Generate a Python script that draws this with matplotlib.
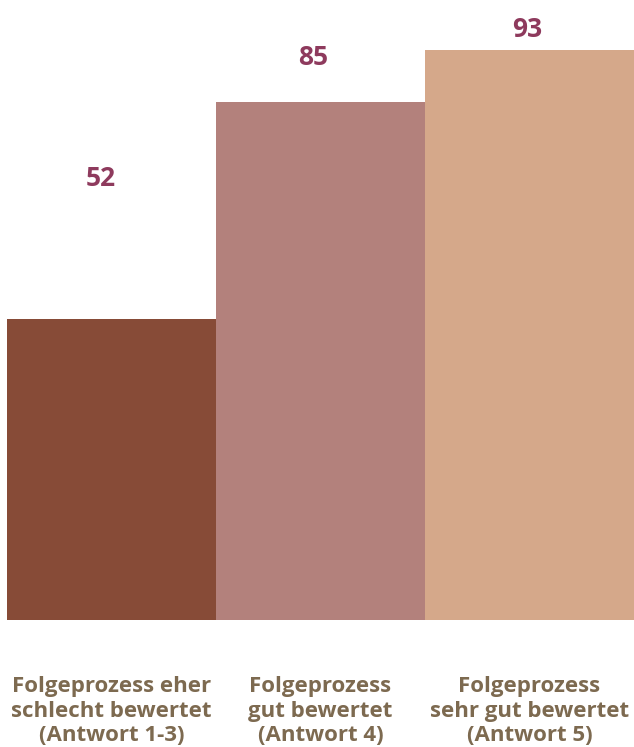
import matplotlib
matplotlib.use('Agg')
import matplotlib.pyplot as plt
import matplotlib.transforms as mtransforms

plt.rcParams['font.family'] = ['Open Sans', 'DejaVu Sans']

categories = ['Folgeprozess eher\nschlecht bewertet\n(Antwort 1-3)',
              'Folgeprozess\ngut bewertet\n(Antwort 4)',
              'Folgeprozess\nsehr gut bewertet\n(Antwort 5)']
values = [52, 85, 93]
colors = ['#874b37', '#b3817c', '#d5a88a']
label_offsets = [(-8, 101), (-5, 32), (-1.5, 15)]  # Position der Zahl relativ zum Balken (pt)

fig = plt.figure(figsize=(6.34, 7.47), dpi=100)
ax = fig.add_axes([7 / 634, 127 / 747, 627 / 634, 620 / 747])

x = range(len(values))
ax.bar(x, values, width=1.0, color=colors, linewidth=0)
ax.set_xlim(-0.5, 2.5)
ax.set_ylim(6.1, 100.6)
ax.axis('off')

for i, v in enumerate(values):
    ax.annotate(str(v), (i, v), xytext=label_offsets[i],
                textcoords='offset points', ha='center', va='center',
                fontsize=19, fontweight='bold', color='#8e3a5d')

trans = mtransforms.blended_transform_factory(ax.transData, fig.transFigure)
for i, cat in enumerate(categories):
    ax.text(i, 0.048, cat, transform=trans,
            ha='center', va='center', multialignment='center',
            fontsize=16, fontweight='bold', color='#7d6a50', linespacing=1.2)

fig.savefig('out.png', dpi=100)
